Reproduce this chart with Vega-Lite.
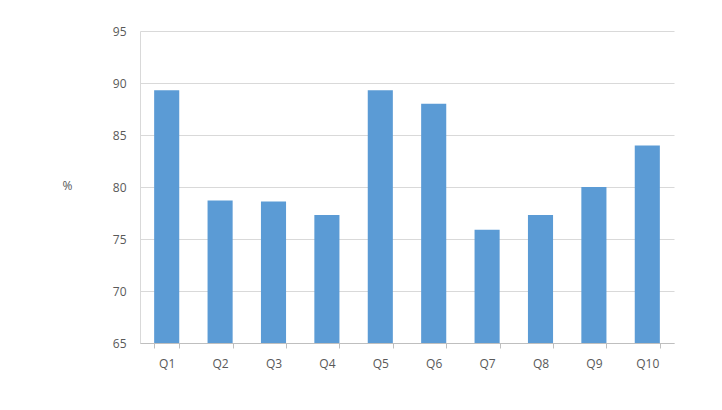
{
  "$schema": "https://vega.github.io/schema/vega-lite/v6.json",
  "autosize": {"type": "none"},
  "width": 534,
  "height": 312,
  "padding": {"left": 140, "top": 31, "right": 48, "bottom": 67},
  "background": "white",
  "config": {
    "view": {"stroke": null},
    "font": "Open Sans"
  },
  "data": {
    "values": [
      {"q": "Q1", "pct": 89.3},
      {"q": "Q2", "pct": 78.7},
      {"q": "Q3", "pct": 78.6},
      {"q": "Q4", "pct": 77.3},
      {"q": "Q5", "pct": 89.3},
      {"q": "Q6", "pct": 88.0},
      {"q": "Q7", "pct": 75.9},
      {"q": "Q8", "pct": 77.3},
      {"q": "Q9", "pct": 80.0},
      {"q": "Q10", "pct": 84.0}
    ]
  },
  "mark": {"type": "bar", "color": "#5b9bd5", "clip": true},
  "encoding": {
    "x": {
      "field": "q",
      "type": "nominal",
      "sort": null,
      "scale": {"paddingInner": 0.53, "paddingOuter": 0.265},
      "axis": {
        "title": null,
        "labelAngle": 0,
        "labelColor": "#595959",
        "labelFontSize": 12,
        "labelPadding": 10,
        "tickBand": "extent",
        "tickColor": "#bfbfbf",
        "tickSize": 5,
        "domainColor": "#bfbfbf",
        "grid": false,
        "zindex": 1
      }
    },
    "y": {
      "field": "pct",
      "type": "quantitative",
      "scale": {"domain": [65, 95], "zero": false, "nice": false},
      "axis": {
        "title": "%",
        "titleAngle": 0,
        "titleX": -73,
        "titleY": 154,
        "titleAlign": "center",
        "titleBaseline": "middle",
        "titleColor": "#595959",
        "titleFontSize": 12,
        "titleFontWeight": "normal",
        "values": [65, 70, 75, 80, 85, 90, 95],
        "labelColor": "#595959",
        "labelFontSize": 12,
        "labelPadding": 14,
        "ticks": false,
        "domainColor": "#d9d9d9",
        "gridColor": "#d9d9d9"
      }
    }
  }
}
